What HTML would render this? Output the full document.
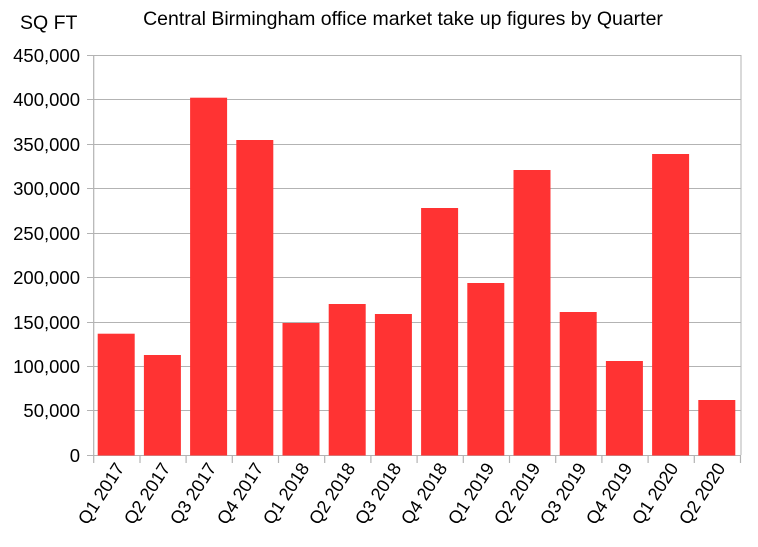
<!DOCTYPE html>
<html><head><style>body{margin:0;background:#fff}svg{display:block}</style></head><body>
<svg width="758" height="547" xmlns="http://www.w3.org/2000/svg" font-family="Liberation Sans, sans-serif">
<rect width="758" height="547" fill="#fff"/>
<text x="20" y="29" font-size="19.5">SQ FT</text>
<text x="403" y="25" font-size="19.5" text-anchor="middle">Central Birmingham office market take up figures by Quarter</text>
<g stroke="#b3b3b3" stroke-width="1">
<line x1="87" x2="741" y1="55.5" y2="55.5"/><line x1="87" x2="741" y1="99.5" y2="99.5"/>
<line x1="87" x2="741" y1="144.5" y2="144.5"/><line x1="87" x2="741" y1="188.5" y2="188.5"/>
<line x1="87" x2="741" y1="233.5" y2="233.5"/><line x1="87" x2="741" y1="277.5" y2="277.5"/>
<line x1="87" x2="741" y1="322.5" y2="322.5"/><line x1="87" x2="741" y1="366.5" y2="366.5"/>
<line x1="87" x2="741" y1="410.5" y2="410.5"/><line x1="87" x2="741" y1="455.5" y2="455.5"/>
<line x1="741" x2="741" y1="55" y2="455"/>
</g>
<g fill="#ff3333">
<rect x="97.7" y="333.7" width="37" height="121.8"/>
<rect x="143.9" y="355" width="37" height="100.5"/>
<rect x="190.1" y="97.7" width="37" height="357.8"/>
<rect x="236.3" y="140" width="37" height="315.5"/>
<rect x="282.5" y="323" width="37" height="132.5"/>
<rect x="328.7" y="304" width="37" height="151.5"/>
<rect x="374.9" y="314" width="37" height="141.5"/>
<rect x="421.1" y="208" width="37" height="247.5"/>
<rect x="467.3" y="283" width="37" height="172.5"/>
<rect x="513.5" y="170" width="37" height="285.5"/>
<rect x="559.7" y="312" width="37" height="143.5"/>
<rect x="605.9" y="361" width="37" height="94.5"/>
<rect x="652.1" y="154" width="37" height="301.5"/>
<rect x="698.3" y="400" width="37" height="55.5"/>
</g>
<g stroke="#b3b3b3" stroke-width="1.2">
<line x1="93.7" x2="93.7" y1="55" y2="463"/>
<line x1="140" x2="140" y1="455" y2="463"/><line x1="186.1" x2="186.1" y1="455" y2="463"/>
<line x1="232.3" x2="232.3" y1="455" y2="463"/><line x1="278.5" x2="278.5" y1="455" y2="463"/>
<line x1="324.7" x2="324.7" y1="455" y2="463"/><line x1="370.9" x2="370.9" y1="455" y2="463"/>
<line x1="417.1" x2="417.1" y1="455" y2="463"/><line x1="463.3" x2="463.3" y1="455" y2="463"/>
<line x1="509.5" x2="509.5" y1="455" y2="463"/><line x1="555.7" x2="555.7" y1="455" y2="463"/>
<line x1="601.9" x2="601.9" y1="455" y2="463"/><line x1="648.1" x2="648.1" y1="455" y2="463"/>
<line x1="694.3" x2="694.3" y1="455" y2="463"/><line x1="740.5" x2="740.5" y1="455" y2="463"/>
</g>
<g font-size="18.5" text-anchor="end">
<text x="80" y="62">450,000</text><text x="80" y="106">400,000</text>
<text x="80" y="151">350,000</text><text x="80" y="195">300,000</text>
<text x="80" y="240">250,000</text><text x="80" y="284">200,000</text>
<text x="80" y="329">150,000</text><text x="80" y="373">100,000</text>
<text x="80" y="417">50,000</text><text x="80" y="462">0</text>
</g>
<g font-size="18" text-anchor="end">
<text transform="translate(125,468) rotate(-57)">Q1 2017</text>
<text transform="translate(171,468) rotate(-57)">Q2 2017</text>
<text transform="translate(217,468) rotate(-57)">Q3 2017</text>
<text transform="translate(264,468) rotate(-57)">Q4 2017</text>
<text transform="translate(310,468) rotate(-57)">Q1 2018</text>
<text transform="translate(356,468) rotate(-57)">Q2 2018</text>
<text transform="translate(402,468) rotate(-57)">Q3 2018</text>
<text transform="translate(448,468) rotate(-57)">Q4 2018</text>
<text transform="translate(495,468) rotate(-57)">Q1 2019</text>
<text transform="translate(541,468) rotate(-57)">Q2 2019</text>
<text transform="translate(587,468) rotate(-57)">Q3 2019</text>
<text transform="translate(633,468) rotate(-57)">Q4 2019</text>
<text transform="translate(679,468) rotate(-57)">Q1 2020</text>
<text transform="translate(726,468) rotate(-57)">Q2 2020</text>
</g>
</svg>
</body></html>
